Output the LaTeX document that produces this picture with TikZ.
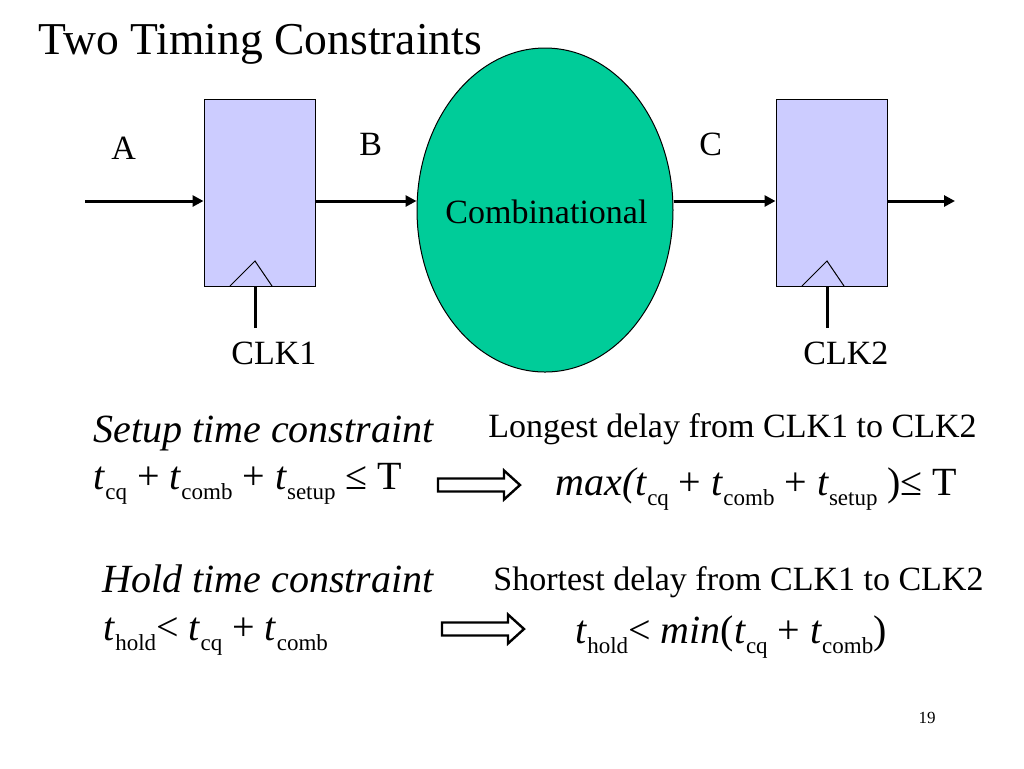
\documentclass[tikz,border=0pt]{standalone}
\usepackage{fontspec}
\setmainfont{Liberation Serif}
\usepackage{tikz}
\usetikzlibrary{shapes.geometric,arrows.meta}

\definecolor{fflav}{RGB}{204,204,255}
\definecolor{combgreen}{RGB}{0,204,153}

\newcommand{\sbs}[1]{\raisebox{-5pt}{\fontsize{11.5}{12}\selectfont #1}}

\tikzset{
  ff/.style={draw=black, fill=fflav, line width=0.5pt, minimum width=55.5pt, minimum height=93.5pt, inner sep=0pt},
  sig/.style={line width=1.5pt, -{Triangle[length=5.5pt,width=5.5pt]}},
  clkline/.style={line width=1.5pt},
  lbl/.style={font=\fontsize{17}{17}\selectfont, anchor=base west, inner sep=0pt},
  big/.style={font=\fontsize{20}{20}\selectfont, anchor=base west, inner sep=0pt},
  implies/.style={draw=black, line width=1.2pt, fill=white}
}

\begin{document}
\begin{tikzpicture}[x=0.5pt,y=-0.5pt]

   \useasboundingbox (0,0) rectangle (1024,768);

   \node[anchor=base west, inner sep=0pt, font=\fontsize{22.8}{22.8}\selectfont] (title) at (38,54) {Two Timing Constraints};

   % flip-flops and the logic
   \node[ff] (ff1) at (259.5,192.5) {};
   \node[ff] (ff2) at (831.5,192.5) {};
   \node[ellipse, draw=black, fill=combgreen, line width=0.5pt, minimum width=128pt, minimum height=162pt, inner sep=0pt] (comb) at (545,210) {};
   \node[lbl] (combtxt) at (445,223) {Combinational};

   % clock inputs
   \draw[line width=0.5pt] (230,286) -- (255,261) -- (272,286);
   \draw[line width=0.5pt] (802,286) -- (827,261) -- (844,286);
   \coordinate (clk1) at (255,328);
   \coordinate (clk2) at (827,328);
   \draw[clkline] (clk1) -- (clk1 |- ff1.south);
   \draw[clkline] (clk2) -- (clk2 |- ff2.south);
   \node[lbl] (clkone) at (231,364) {CLK1};
   \node[lbl] (clktwo) at (803,364) {CLK2};

   % signals
   \coordinate (in) at (85,201);
   \coordinate (out) at (955,201);
   \draw[sig] (in) -- (in -| ff1.west);
   \draw[sig] (ff1.east |- in) -- (comb.west |- in);
   \draw[sig] (comb.east |- in) -- (ff2.west |- in);
   \draw[sig] (ff2.east |- in) -- (out);
   \node[lbl] (A) at (111,159) {A};
   \node[lbl] (B) at (359,155) {B};
   \node[lbl] (C) at (699,155) {C};

   % setup
   \node[big] (setup) at (93,442) {\itshape Setup time constraint};
   \node[big] (setupeq) at (93,489) {\textit{t}\sbs{cq} + \textit{t}\sbs{comb} + \textit{t}\sbs{setup} ≤ T};
   \node[lbl] (longest) at (488,437) {Longest delay from CLK1 to CLK2};
   \node[big] (maxeq) at (555,495) {\textit{max(t}\sbs{cq} + \textit{t}\sbs{comb} + \textit{t}\sbs{setup} )≤ T};
   \coordinate (imp1) at (438,485);
   \draw[implies] (imp1) ++(0,-6.5) -- ++(66,0) -- ++(0,-8) -- ++(16,14.5) -- ++(-16,14.5) -- ++(0,-8) -- ++(-66,0) -- cycle;

   % hold
   \node[big] (hold) at (102,592) {\itshape Hold time constraint};
   \node[big] (holdeq) at (103,640) {\textit{t}\sbs{hold}< \textit{t}\sbs{cq} + \textit{t}\sbs{comb}};
   \node[lbl] (shortest) at (493,590) {Shortest delay from CLK1 to CLK2};
   \node[big] (mineq) at (575,643) {\textit{t}\sbs{hold}< \textit{min}(\textit{t}\sbs{cq} + \textit{t}\sbs{comb})};
   \coordinate (imp2) at (442,629);
   \draw[implies] (imp2) ++(0,-6.5) -- ++(66,0) -- ++(0,-8) -- ++(16,14.5) -- ++(-16,14.5) -- ++(0,-8) -- ++(-66,0) -- cycle;

   \node[font=\fontsize{8.5}{8.5}\selectfont, inner sep=0pt] (page) at (927,718) {19};

\end{tikzpicture}
\end{document}
